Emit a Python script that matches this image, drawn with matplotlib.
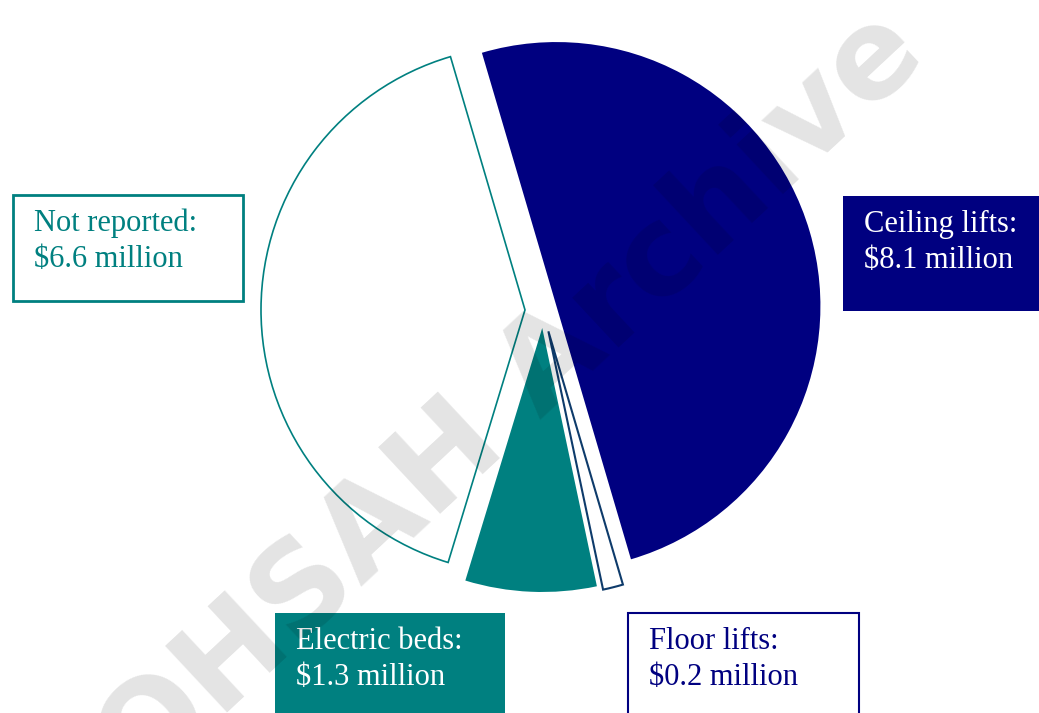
import matplotlib.pyplot as plt
from matplotlib.patches import Rectangle

# spending by equipment type, $ millions
labels = ["Ceiling lifts", "Floor lifts", "Electric beds", "Not reported"]
values = [8.1, 0.2, 1.3, 6.6]

navy = "#000080"
teal = "#008080"
floor_edge = "#0e3b6b"

W, H = 1039, 713
fig = plt.figure(figsize=(W / 100, H / 100), dpi=100)
ax = fig.add_axes([0, 0, 1, 1])

# pie drawn in pixel units, so explode offsets are in pixels too
wedges, _ = ax.pie(
    values,
    explode=[14, 22, 18, 18],
    startangle=106.4,
    counterclock=False,
    center=(543, H - 310),
    radius=264,
    frame=True,
)
style = [
    dict(facecolor=navy, edgecolor="none"),
    dict(facecolor="white", edgecolor=floor_edge, linewidth=1.5),
    dict(facecolor=teal, edgecolor="none"),
    dict(facecolor="white", edgecolor=teal, linewidth=1.2),
]
for w, s in zip(wedges, style):
    w.set(**s)

ax.set_xlim(0, W)
ax.set_ylim(0, H)
ax.set_aspect("equal")
ax.axis("off")

serif = ["Liberation Serif", "DejaVu Serif"]


def label_box(x0, y0, x1, y1, text, face, edge, color, lw=0):
    # box corners given from the top-left of the figure
    ax.add_patch(Rectangle((x0, H - y1), x1 - x0, y1 - y0, facecolor=face,
                           edgecolor=edge, linewidth=lw, zorder=3))
    ax.text(x0 + 21, H - y0 - 14, text, ha="left", va="top", fontsize=22,
            color=color, family=serif, linespacing=1.3, zorder=4)


label_box(13, 195, 243, 301, f"{labels[3]}:\n${values[3]} million",
          "white", teal, teal, lw=2)
label_box(843, 196, 1045, 311, f"{labels[0]}:\n${values[0]} million",
          navy, navy, "white")
label_box(275, 613, 505, 720, f"{labels[2]}:\n${values[2]} million",
          teal, teal, "white")
label_box(628, 613, 859, 720, f"{labels[1]}:\n${values[1]} million",
          "white", navy, navy, lw=1.5)

ax.text(512, H - 400, "OHSAH Archive", fontsize=90, fontweight="bold",
        family="DejaVu Sans", color="black", alpha=0.11, rotation=43,
        ha="center", va="center", zorder=10)

fig.savefig("out.png", dpi=100)
